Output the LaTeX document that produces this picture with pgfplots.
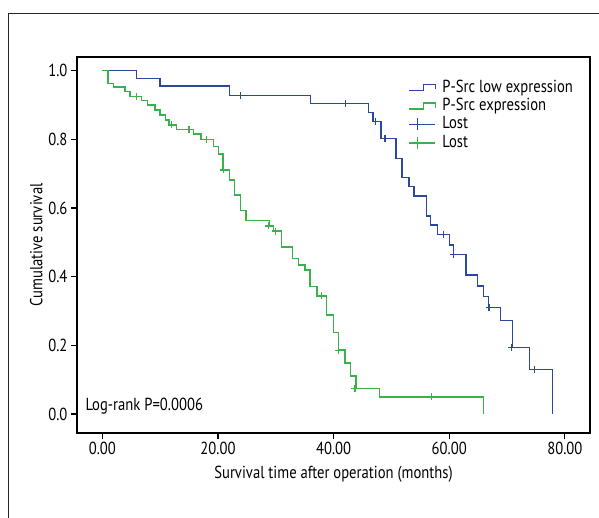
\documentclass[border=0pt]{standalone}
\usepackage{fontspec}
\setmainfont{PT Sans}[FakeStretch=0.84]
\usepackage{pgfplots}
\pgfplotsset{compat=1.18}

\definecolor{kmblue}{RGB}{44,72,158}
\definecolor{kmgreen}{RGB}{58,178,76}

\newcommand{\chartfont}{\fontsize{17.5}{19}\selectfont}

\pgfplotsset{
    step legend/.style={legend image code/.code={%
        \draw[##1] (0bp,-3bp) -- (14.5bp,-3bp) -- (14.5bp,3bp) -- (26bp,3bp) -- (26bp,-1.5bp);}},
    lost legend/.style={legend image code/.code={%
        \draw[##1,mark=none] (0bp,0bp) -- (26bp,0bp);
        \draw[##1,mark=none] (8.5bp,-6bp) -- (8.5bp,6bp);}},
}

\begin{document}
\begin{tikzpicture}[x=1bp,y=1bp]
\useasboundingbox (0,0) rectangle (599,518);
% outer frame (only left and top edges visible)
\draw[line width=1bp,black!85] (8.5,0) -- (8.5,504) -- (599,504);

\begin{axis}[
    at={(77bp,85bp)}, anchor=south west,
    scale only axis,
    width=513bp, height=376bp,
    xmin=-4.39, xmax=84.36,
    ymin=-0.0553, ymax=1.04,
    xtick={0,20,40,60,80},
    ytick={0,0.2,0.4,0.6,0.8,1.0},
    xtick pos=left, ytick pos=left,
    tick align=outside,
    major tick length=6bp,
    tick style={line width=1.2bp,black},
    axis line style={line width=1.2bp,black},
    xticklabel style={/pgf/number format/.cd,fixed,fixed zerofill,precision=2},
    yticklabel style={/pgf/number format/.cd,fixed,fixed zerofill,precision=1},
    /pgf/number format/assume math mode=true,
    ticklabel style={font=\chartfont},
    label style={font=\chartfont},
    xlabel={Survival time after operation (months)},
    ylabel={Cumulative survival},
    xlabel style={yshift=-4bp},
    ylabel style={yshift=-1bp},
    legend cell align=left,
    legend style={at={(0.6458,0.9415)}, anchor=north west, draw=none, fill=none,
        inner sep=0pt, font=\chartfont, row sep=1.4bp,
        nodes={inner sep=0pt, text height=13bp, text depth=4bp},
        /tikz/every odd column/.append style={column sep=6.5bp}},
]

% P-Src low expression (event times and survival after each event)
\addplot[const plot, kmblue, line width=1.4bp, step legend]
coordinates {
    (0,1.0) (5.9,0.977) (10.0,0.955) (22.0,0.928) (36.0,0.905)
    (46.0,0.879) (46.8,0.852) (48.2,0.803) (50.8,0.745) (51.8,0.689)
    (53.05,0.662) (53.9,0.635) (56.1,0.577) (56.8,0.551) (57.95,0.523)
    (60.0,0.492) (60.7,0.465) (62.9,0.405) (64.9,0.373) (65.9,0.342)
    (66.8,0.310) (68.9,0.272) (71.0,0.193) (73.9,0.130) (77.9,0.0)
};
\addlegendentry{P-Src low expression}

% P-Src expression
\addplot[const plot, kmgreen, line width=1.4bp, step legend]
coordinates {
    (0,1.0) (1.0,0.963) (1.9,0.953) (3.9,0.939) (4.8,0.925)
    (6.8,0.913) (7.8,0.900) (9.1,0.886) (10.0,0.871) (10.95,0.856)
    (11.5,0.842) (12.85,0.829) (15.8,0.816) (17.06,0.800) (19.2,0.780)
    (20.05,0.757) (20.9,0.711) (21.96,0.682) (22.9,0.638) (23.9,0.592)
    (24.85,0.563) (28.9,0.548) (29.6,0.533) (31.0,0.486) (32.9,0.453)
    (33.9,0.434) (35.05,0.419) (35.9,0.371) (37.1,0.344) (38.8,0.288)
    (39.95,0.237) (40.8,0.186) (42.0,0.149) (42.95,0.111) (43.9,0.075)
    (47.9,0.050) (65.9,0.0)
};
\addlegendentry{P-Src expression}

% censored observations
\addplot[only marks, mark=+, mark size=3.5bp, kmblue, line width=1.3bp, lost legend]
coordinates {
    (23.9,0.928) (42.0,0.905) (47.2,0.852) (48.9,0.803) (59.0,0.523)
    (60.8,0.465) (66.9,0.310) (70.8,0.193) (74.8,0.130)
};
\addlegendentry{Lost}

\addplot[only marks, mark=+, mark size=3.5bp, kmgreen, line width=1.3bp, lost legend]
coordinates {
    (5.9,0.925) (11.9,0.842) (15.0,0.829) (18.0,0.800) (20.9,0.711)
    (28.7,0.548) (29.9,0.533) (37.9,0.344) (40.8,0.186) (43.7,0.075)
    (56.9,0.050)
};
\addlegendentry{Lost}

\node[anchor=west, font=\chartfont, inner sep=0pt]
    at (axis cs:-2.95,0.022) {Log-rank P=0.0006};
\end{axis}
\end{tikzpicture}
\end{document}
